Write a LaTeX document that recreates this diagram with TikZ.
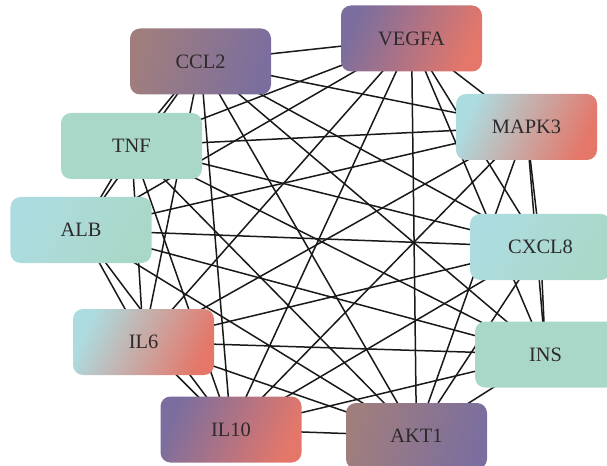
\documentclass[tikz,border=0pt]{standalone}
\usepackage{fontspec}
\setmainfont{Liberation Serif}
\usetikzlibrary{backgrounds}
\definecolor{purp}{HTML}{7B6E9E}
\definecolor{mauve}{HTML}{A07E7E}
\definecolor{coral}{HTML}{E4776A}
\definecolor{rosy}{HTML}{CB7387}
\definecolor{lblue}{HTML}{ADDCE0}
\definecolor{mint}{HTML}{A9D8C8}
\definecolor{pinkgray}{HTML}{D8C7CA}
\definecolor{txt}{HTML}{2E2A2C}

\begin{document}
\begin{tikzpicture}[x=1bp, y=-1bp,
  gene/.style={rectangle, rounded corners=10bp, minimum width=141bp, minimum height=66bp,
    inner sep=0pt, font=\fontsize{20.5}{20.5}\selectfont, text=txt},
  shadeA/.style={left color=mauve, right color=purp, shading angle=75},
  shadeB/.style={left color=purp, middle color=rosy, right color=coral, shading angle=65},
  shadeC/.style={left color=lblue, middle color=pinkgray, right color=coral, shading angle=65},
  shadeD/.style={left color=lblue, right color=mint, shading angle=60},
  link/.style={line width=1.5bp, black!90}]
  \clip (0,0) rectangle (607,466);
  \node[gene, shadeB] (vegfa) at (411.5,38.5) {VEGFA};
  \node[gene, shadeA] (ccl2) at (200.5,61.5) {CCL2};
  \node[gene, shadeC] (mapk3) at (526.5,127) {MAPK3};
  \node[gene, fill=mint] (tnf) at (131.5,146) {TNF};
  \node[gene, shadeD] (alb) at (81,230) {ALB};
  \node[gene, shadeD] (cxcl8) at (540.5,247) {CXCL8};
  \node[gene, fill=mint] (ins) at (545.5,354.5) {INS};
  \node[gene, shadeC] (il6) at (143.5,342) {IL6};
  \node[gene, shadeB] (il10) at (231,429.5) {IL10};
  \node[gene, shadeA] (akt1) at (416.5,436) {AKT1};
  % every pair is linked
  \begin{scope}[on background layer]
    \foreach \u [count=\i] in {vegfa,mapk3,cxcl8,ins,akt1,il10,il6,alb,tnf,ccl2}
      \foreach \v [count=\j] in {vegfa,mapk3,cxcl8,ins,akt1,il10,il6,alb,tnf,ccl2}
        {\ifnum\j>\i \draw[link] (\u.center) -- (\v.center); \fi}
  \end{scope}
\end{tikzpicture}
\end{document}
